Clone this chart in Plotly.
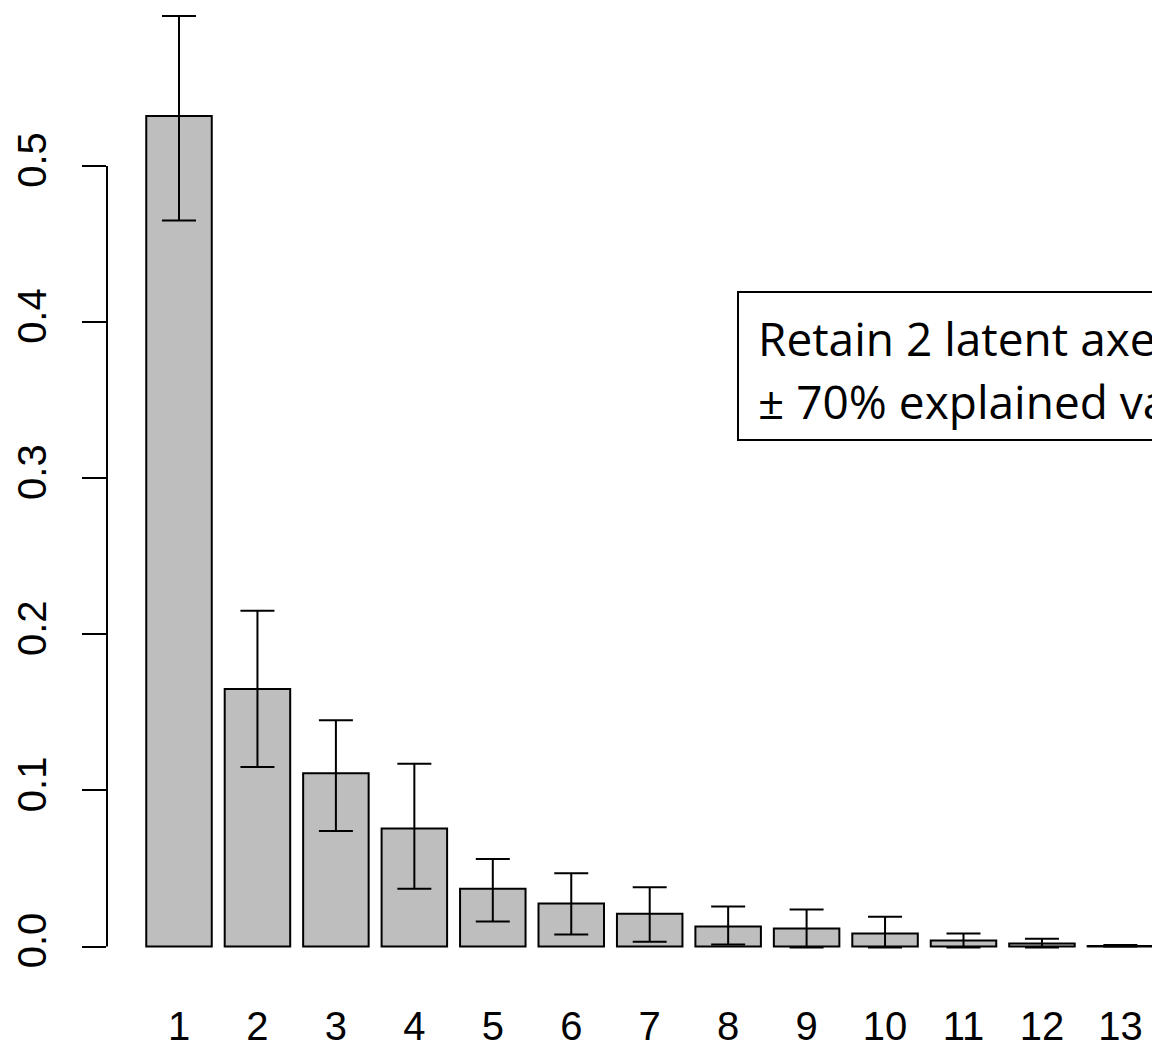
import plotly.graph_objects as go

# Data
components = [1, 2, 3, 4, 5, 6, 7, 8, 9, 10, 11, 12, 13]
variance = [0.532, 0.165, 0.111, 0.0756, 0.037, 0.0276, 0.021, 0.0128, 0.0115, 0.0083, 0.0038, 0.002, 0.0003]
upper = [0.596, 0.215, 0.145, 0.117, 0.056, 0.047, 0.038, 0.0256, 0.0237, 0.019, 0.0083, 0.005, 0.001]
lower = [0.465, 0.115, 0.074, 0.037, 0.016, 0.0077, 0.003, 0.0013, -0.0006, -0.0006, -0.0006, -0.0006, 0.0]
y_ticks = [0.0, 0.1, 0.2, 0.3, 0.4, 0.5]
y_tick_labels = ["0.0", "0.1", "0.2", "0.3", "0.4", "0.5"]
x_tick_labels = [str(c) for c in components]
note_lines = ["Retain 2 latent axes", "\u00b1 70% explained variance"]

err_plus = [u - v for u, v in zip(upper, variance)]
err_minus = [v - l for v, l in zip(variance, lower)]

fig = go.Figure()
fig.add_trace(go.Bar(
    x=components, y=variance, width=0.835,
    marker=dict(color="#bebebe", line=dict(color="black", width=2)),
    error_y=dict(type="data", symmetric=False, array=err_plus, arrayminus=err_minus,
                 color="black", thickness=2, width=17),
    showlegend=False,
))

axis_font = dict(family="Liberation Sans, Arial, sans-serif", size=40, color="black")
note_font = dict(family="Open Sans, Lato, sans-serif", size=46, color="black")

L = 107.0
W = 1045.0
H = 980.0  # plot-area height in px (t=0)
def px(p):
    return (p - L) / W
def py(p):
    return (H - p) / H

fig.update_layout(
    width=1152, height=1050,
    margin=dict(l=107, r=0, t=0, b=70, autoexpand=False),
    paper_bgcolor="white", plot_bgcolor="white",
    xaxis=dict(range=[0.0822, 13.4028], tickvals=components, ticktext=x_tick_labels,
               ticks="", showline=False, showgrid=False, zeroline=False, automargin=False,
               tickfont=axis_font, ticklabelstandoff=19),
    yaxis=dict(range=[-0.02146, 0.6063], tickvals=y_ticks, ticktext=y_tick_labels,
               ticks="outside", ticklen=24, tickwidth=2, tickcolor="black",
               showline=False, showgrid=False, zeroline=False, automargin=False,
               tickangle=-90, tickfont=axis_font, ticklabelstandoff=20),
    shapes=[
        dict(type="line", xref="paper", yref="y", x0=0, x1=0, y0=0, y1=0.5,
             line=dict(color="black", width=2)),
        dict(type="rect", xref="paper", yref="paper", x0=px(738), x1=1.2,
             y0=py(440), y1=py(292),
             line=dict(color="black", width=2), fillcolor="white"),
    ],
    annotations=[
        dict(xref="paper", yref="paper", x=px(756), y=py(338), xanchor="left",
             yanchor="middle", align="left", showarrow=False,
             text=note_lines[0], font=note_font),
        dict(xref="paper", yref="paper", x=px(756), y=py(401), xanchor="left",
             yanchor="middle", align="left", showarrow=False,
             text=note_lines[1], font=note_font),
    ],
)

fig.write_html("out.html", config={"displayModeBar": False},
               post_script="document.body.style.margin='0';document.body.style.overflow='hidden';")
